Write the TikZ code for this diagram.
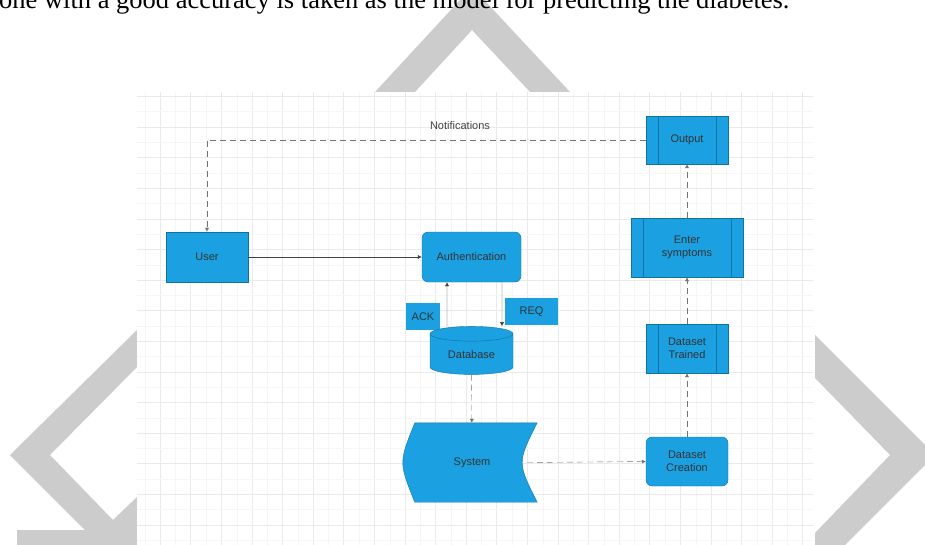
\documentclass[tikz,border=0pt]{standalone}
\usepackage{fontspec}
\setmainfont{Liberation Serif}
\newfontfamily\diafont{Liberation Sans}
\usepackage[HTML]{xcolor}
\usepackage{tikz}
\usetikzlibrary{positioning, arrows, arrows.meta, shapes.geometric}
\definecolor{boxblue}{HTML}{1BA1E2}
\definecolor{boxedge}{HTML}{10739E}
\definecolor{wmgray}{HTML}{CCCCCC}
\definecolor{gridmaj}{HTML}{EAEAEA}
\definecolor{gridmin}{HTML}{F6F6F6}

\begin{document}
\begin{tikzpicture}[x=1pt, y=-1pt,
  blk/.style={draw=boxedge, fill=boxblue, text=black!80, align=center,
    font=\diafont\fontsize{11}{12.5}\selectfont, inner sep=1pt},
  tagbox/.style={blk, draw=none},
  roundbox/.style={blk, rounded corners=6pt},
  procbox/.style={blk, path picture={
    \draw[boxedge] ([xshift=12pt]path picture bounding box.north west) -- ([xshift=12pt]path picture bounding box.south west);
    \draw[boxedge] ([xshift=-12pt]path picture bounding box.north east) -- ([xshift=-12pt]path picture bounding box.south east);}},
  solidarr/.style={draw=black!75, -{Latex[length=4pt,width=4pt]}},
  dasharr/.style={draw=black!55, dash pattern=on 6pt off 4pt, -{Latex[length=4pt,width=4pt]}}]
\useasboundingbox (0,0) rectangle (925,545);
\clip (0,0) rectangle (925,545);

% watermark chevrons
\fill[wmgray] (375,92) -- (472,-13) -- (570,92) -- (530,92) -- (472,30) -- (415,92) -- cycle;
\fill[wmgray] (137,330) -- (10,455) -- (85,530) -- (17,530) -- (17,545) -- (137,545)
  -- (137,497) -- (113,520) -- (50,455) -- (137,367) -- cycle;
\fill[wmgray] (815,335) -- (935,455) -- (845,545) -- (815,545) -- (815,533) -- (890,455) -- (815,378) -- cycle;

% text line of the page, cut at the top as in the scan
\node[anchor=base west, inner sep=0pt, font=\fontsize{26.5}{30}\selectfont] (caption) at (-1,9)
  {one with a good accuracy is taken as the model for predicting the diabetes.};

% grid sheet
\fill[white] (137,92) rectangle (813,545);
\begin{scope}
\clip (137,92) rectangle (813,545);
\foreach \k in {0,...,21} {
  \draw[gridmin] ({145+30.6*\k},92) -- ({145+30.6*\k},545);
  \draw[gridmaj] ({160+30.6*\k},92) -- ({160+30.6*\k},545);
}
\foreach \k in {0,...,14} {
  \draw[gridmin] (137,{111.7+30.6*\k}) -- (813,{111.7+30.6*\k});
  \draw[gridmaj] (137,{96.4+30.6*\k}) -- (813,{96.4+30.6*\k});
}
\end{scope}

% left part
\node[blk, minimum width=82pt, minimum height=50pt] (user) at (207,257) {User};
\node[roundbox, minimum width=99pt, minimum height=50pt] (auth) at (471.5,257) {Authentication};
\node[tagbox, minimum width=34pt, minimum height=27pt] (ack) at (423,316.5) {ACK};
\node[tagbox, minimum width=53pt, minimum height=27pt] (req) at (531.5,311.5) {REQ};
\node[blk, cylinder, shape border rotate=90, aspect=0.3, minimum width=83pt, minimum height=48pt] (db) at (471.5,355) {Database};

% stored data shape
\node[minimum width=130pt, minimum height=79pt, inner sep=0pt] (sys) at (472,462.5) {};
\draw[draw=boxedge, fill=boxblue] ([xshift=8pt]sys.north west) -- (sys.north east)
  .. controls ([xshift=-20pt]sys.east) .. (sys.south east) -- ([xshift=8pt]sys.south west)
  .. controls ([xshift=-8pt]sys.west) .. cycle;
\node[text=black!80, font=\diafont\fontsize{11}{12.5}\selectfont] (systext) at (sys) {System};

% right column
\node[procbox, minimum width=82pt, minimum height=48pt] (out) at (687,140) {Output};
\node[procbox, minimum width=112pt, minimum height=59pt] (sym) at (687,247.5) {Enter\\symptoms};
\node[procbox, minimum width=82pt, minimum height=49pt] (trn) at (687,348.5) {Dataset\\Trained};
\node[roundbox, minimum width=82pt, minimum height=49pt] (crt) at (687,461.5) {Dataset\\Creation};

% connectors
\draw[solidarr] (user) -- (auth);
\draw[solidarr] ([xshift=-24.5pt]db.north) -- ([xshift=-24.5pt]auth.south);
\draw[solidarr] ([xshift=30.5pt]auth.south) -- ([xshift=30.5pt]db.north);
\draw[dasharr] (db) -- (sys);
\draw[dasharr] ([xshift=-10pt]sys.east) -- (crt.west);
\draw[dasharr] (crt) -- (trn);
\draw[dasharr] (trn) -- (sym);
\draw[dasharr] (sym) -- (out);
\draw[dasharr] (out.west) -| (user.north);
\node[text=black!75, font=\diafont\fontsize{11}{12.5}\selectfont] (notif) at (460,126) {Notifications};
\end{tikzpicture}
\end{document}
